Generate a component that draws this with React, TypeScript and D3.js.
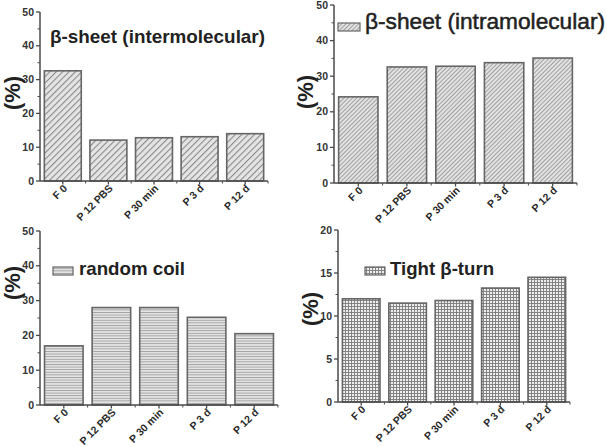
import React from "react";
import * as d3 from "d3";

const categories = ["F 0", "P 12 PBS", "P 30 min", "P 3 d", "P 12 d"];
const interValues = [32.6, 12.1, 12.8, 13.1, 14.0];
const intraValues = [24.2, 32.6, 32.8, 33.8, 35.1];
const coilValues = [17.0, 28.0, 28.0, 25.2, 20.5];
const turnValues = [12.0, 11.5, 11.8, 13.25, 14.5];

const ticks50 = [0, 10, 20, 30, 40, 50];
const ticks20 = [0, 5, 10, 15, 20];

type PanelProps = {
  values: number[];
  x0: number;
  x1: number;
  y0: number;
  yTop: number;
  yMax: number;
  ticks: number[];
  pattern: string;
  ylab: [number, number];
  children?: React.ReactNode;
};

const AX = "#4a4a4a";
const TXT = "#222";

function Panel({ values, x0, x1, y0, yTop, yMax, ticks, pattern, ylab, children }: PanelProps) {
  const x = d3.scaleBand<string>().domain(categories).range([x0, x1]).paddingInner(0.19).paddingOuter(0.095);
  const y = d3.scaleLinear().domain([0, yMax]).range([y0, yTop]);
  const step = ticks[1] - ticks[0];
  const minors = ticks.slice(0, -1).map((t) => t + step / 2);
  const edges = categories.map((_, i) => x0 + x.step() * (i + 1));
  return (
    <g>
      {categories.map((c, i) => (
        <rect
          key={c}
          x={x(c)}
          y={y(values[i])}
          width={x.bandwidth()}
          height={y0 - y(values[i])}
          fill={`url(#${pattern})`}
          stroke="#666"
          strokeWidth={1.6}
        />
      ))}
      <line x1={x0} x2={x0} y1={y0} y2={y(yMax)} stroke={AX} strokeWidth={1.5} />
      <line x1={x0} x2={x1} y1={y0} y2={y0} stroke={AX} strokeWidth={1.5} />
      {ticks.map((t) => (
        <g key={t}>
          <line x1={x0 - 4} x2={x0} y1={y(t)} y2={y(t)} stroke={AX} strokeWidth={1.3} />
          <text x={x0 - 6} y={y(t)} dy="0.35em" textAnchor="end" fontSize={10.5} fontWeight="bold" fill="#333">
            {t}
          </text>
        </g>
      ))}
      {minors.map((t) => (
        <line key={t} x1={x0 - 2.5} x2={x0} y1={y(t)} y2={y(t)} stroke={AX} strokeWidth={1} />
      ))}
      {categories.map((c) => {
        const cx = (x(c) as number) + x.bandwidth() / 2;
        return (
          <g key={c}>
            <line x1={cx} x2={cx} y1={y0} y2={y0 + 3.5} stroke={AX} strokeWidth={1.3} />
            <text
              transform={`translate(${cx + 5},${y0 + 8}) rotate(-45)`}
              textAnchor="end"
              fontSize={10.5}
              fontWeight="bold"
              fill="#2a2a2a"
            >
              {c}
            </text>
          </g>
        );
      })}
      {edges.map((e, i) => (
        <line key={i} x1={e} x2={e} y1={y0} y2={y0 + 2.5} stroke={AX} strokeWidth={1} />
      ))}
      <text
        transform={`translate(${ylab[0]},${ylab[1]}) rotate(-90)`}
        textAnchor="middle"
        dy="0.35em"
        fontSize={22}
        fontWeight="bold"
        fill={TXT}
      >
        (%)
      </text>
      {children}
    </g>
  );
}

export default function App() {
  return (
    <svg
      width={607}
      height={447}
      style={{ position: "absolute", left: 0, top: 0, background: "#fff" }}
      fontFamily="Arial, 'Liberation Sans', sans-serif"
    >
      <defs>
        <pattern id="p1" width={4.5} height={4.5} patternUnits="userSpaceOnUse" patternTransform="rotate(45)">
          <rect width={4.5} height={4.5} fill="#e4e4e4" />
          <line x1={0.5} x2={0.5} y1={0} y2={4.5} stroke="#888" strokeWidth={1.1} />
        </pattern>
        <pattern id="p2" width={3} height={3} patternUnits="userSpaceOnUse" patternTransform="rotate(45)">
          <rect width={3} height={3} fill="#e2e2e2" />
          <line x1={0.5} x2={0.5} y1={0} y2={3} stroke="#9a9a9a" strokeWidth={0.9} />
        </pattern>
        <pattern id="p3" width={4} height={2.6} patternUnits="userSpaceOnUse">
          <rect width={4} height={2.6} fill="#e6e6e6" />
          <line x1={0} x2={4} y1={0.5} y2={0.5} stroke="#9c9c9c" strokeWidth={0.9} />
        </pattern>
        <pattern id="p4" width={3} height={3} patternUnits="userSpaceOnUse">
          <rect width={3} height={3} fill="#eeeeee" />
          <line x1={0} x2={3} y1={0.5} y2={0.5} stroke="#7a7a7a" strokeWidth={0.9} />
          <line x1={0.5} x2={0.5} y1={0} y2={3} stroke="#7a7a7a" strokeWidth={0.9} />
        </pattern>
      </defs>

      <Panel values={interValues} x0={40} x1={268} y0={181} yTop={12} yMax={50} ticks={ticks50} pattern="p1" ylab={[12, 93]}>
        <text x={50} y={43} fontSize={19} fontWeight="bold" fill={TXT} textLength={215} lengthAdjust="spacingAndGlyphs">
          β-sheet (intermolecular)
        </text>
      </Panel>

      <Panel values={intraValues} x0={334} x1={577} y0={183} yTop={5} yMax={50} ticks={ticks50} pattern="p2" ylab={[305, 92]}>
        <rect x={338} y={23} width={22} height={8} fill="url(#p2)" stroke="#666" strokeWidth={1.2} />
        <text
          x={365}
          y={29}
          fontSize={22}
          fill={TXT}
          stroke={TXT}
          strokeWidth={0.5}
          textLength={240}
          lengthAdjust="spacingAndGlyphs"
        >
          β-sheet (intramolecular)
        </text>
      </Panel>

      <Panel values={coilValues} x0={40} x1={278} y0={405} yTop={231} yMax={50} ticks={ticks50} pattern="p3" ylab={[12, 283]}>
        <rect x={53} y={267} width={20} height={8} fill="url(#p3)" stroke="#666" strokeWidth={1.2} />
        <text x={79} y={275} fontSize={19} fontWeight="bold" fill={TXT} textLength={106} lengthAdjust="spacingAndGlyphs">
          random coil
        </text>
      </Panel>

      <Panel values={turnValues} x0={338} x1={570} y0={402} yTop={230} yMax={20} ticks={ticks20} pattern="p4" ylab={[310, 309]}>
        <rect x={365} y={267} width={20} height={8} fill="url(#p4)" stroke="#666" strokeWidth={1.2} />
        <text x={390} y={275} fontSize={19} fontWeight="bold" fill={TXT} textLength={104} lengthAdjust="spacingAndGlyphs">
          Tight β-turn
        </text>
      </Panel>
    </svg>
  );
}
